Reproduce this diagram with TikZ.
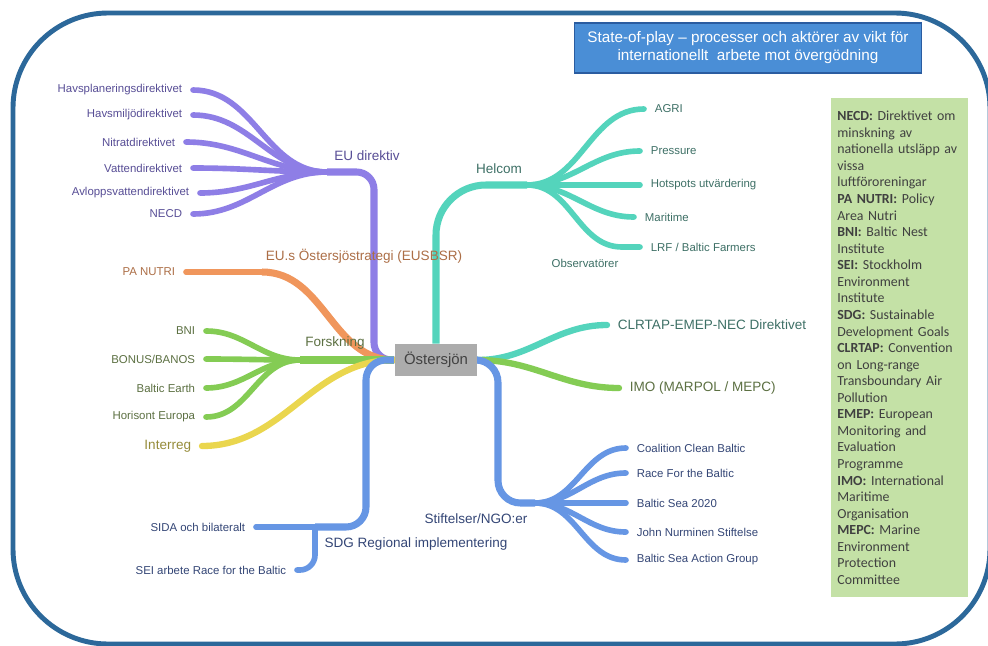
\documentclass[tikz,border=0pt]{standalone}
\usepackage{fontspec}
\setmainfont{Liberation Sans}
\newfontfamily\legendfont{Carlito}
\usepackage{tikz}
\usetikzlibrary{positioning,backgrounds}
\usepackage{xcolor}
\definecolor{cFrame}{RGB}{44,104,154}
\definecolor{cTitle}{RGB}{74,142,214}
\definecolor{cTitleEdge}{RGB}{42,92,160}
\definecolor{cLegend}{RGB}{196,225,166}
\definecolor{cLegText}{RGB}{64,64,64}
\definecolor{cCenter}{RGB}{172,172,172}
\definecolor{cCenterTxt}{RGB}{66,66,66}
\definecolor{cPurple}{RGB}{142,126,230}
\definecolor{tPurple}{RGB}{88,78,150}
\definecolor{cTeal}{RGB}{84,212,188}
\definecolor{tTeal}{RGB}{62,112,102}
\definecolor{cOrange}{RGB}{240,150,92}
\definecolor{tOrange}{RGB}{172,110,70}
\definecolor{cGreen}{RGB}{132,204,84}
\definecolor{tGreen}{RGB}{92,112,66}
\definecolor{cYellow}{RGB}{234,214,78}
\definecolor{tYellow}{RGB}{150,140,58}
\definecolor{cBlue}{RGB}{102,150,228}
\definecolor{tBlue}{RGB}{52,70,118}
\tikzset{
  outerframe/.style={draw=cFrame,line width=2.8pt,rounded corners=1.9cm},
  titlebox/.style={rectangle,fill=cTitle,draw=cTitleEdge,line width=0.6pt,
                   text=white,align=center,minimum width=6.94cm,minimum height=1cm,
                   font=\fontsize{8.7}{10.2}\selectfont},
  legendbox/.style={rectangle,fill=cLegend,text=cLegText,align=left,
                    text width=2.5cm,inner xsep=0.12cm,minimum height=9.98cm,
                    font=\legendfont\fontsize{7.9}{9.43}\selectfont},
  centernode/.style={rectangle,fill=cCenter,text=cCenterTxt,minimum width=1.66cm,
                     minimum height=0.64cm,font=\fontsize{8.5}{10}\selectfont},
  leaflbl/.style={inner sep=1pt,font=\fontsize{6.5}{7.8}\selectfont},
  branchlbl/.style={inner sep=1pt,font=\fontsize{7.7}{9.2}\selectfont},
  trunkline/.style={line width=4pt,line cap=butt},
  leafline/.style={line width=3.2pt,line cap=round}
}
\begin{document}
\begin{tikzpicture}[x=0.02cm,y=-0.02cm]
  \useasboundingbox (0,0) rectangle (988,646);

  \node[titlebox] (title) at (748,48)
      {State-of-play \textendash{} processer och aktörer av vikt för\\
       internationellt\ \ arbete mot övergödning};

  \node[legendbox,anchor=north west] (legend) at (831,98)
      {\textbf{NECD:} Direktivet om\\minskning av\\nationella utsläpp av\\vissa\\
       luftföroreningar\\\textbf{PA NUTRI:} Policy\\Area Nutri\\\textbf{BNI:} Baltic Nest\\
       Institute\\\textbf{SEI:} Stockholm\\Environment\\Institute\\
       \textbf{SDG:} Sustainable\\Development Goals\\\textbf{CLRTAP:} Convention\\
       on Long-range\\Transboundary Air\\Pollution\\\textbf{EMEP:} European\\
       Monitoring and\\Evaluation\\Programme\\\textbf{IMO:} International\\
       Maritime\\Organisation\\\textbf{MEPC:} Marine\\Environment\\Protection\\Committee};

  \node[centernode] (ost) at (436,360) {Östersjön};

  % EU direktiv
  \coordinate (hubEU) at (327,172);
  \coordinate (eHavsp) at (193,90);
  \coordinate (eHavsm) at (193,115);
  \coordinate (eNitrat) at (186,142);
  \coordinate (eVatten) at (193,168);
  \coordinate (eAvlopp) at (200,193);
  \coordinate (eNECD) at (193,214);
  \node[branchlbl,text=tPurple] (eudir) at (367,156) {EU direktiv};
  \node[leaflbl,text=tPurple,left=5pt of eHavsp] (havsp) {Havsplaneringsdirektivet};
  \node[leaflbl,text=tPurple,left=5pt of eHavsm] (havsm) {Havsmiljödirektivet};
  \node[leaflbl,text=tPurple,left=5pt of eNitrat] (nitrat) {Nitratdirektivet};
  \node[leaflbl,text=tPurple,left=5pt of eVatten] (vatten) {Vattendirektivet};
  \node[leaflbl,text=tPurple,left=5pt of eAvlopp] (avlopp) {Avloppsvattendirektivet};
  \node[leaflbl,text=tPurple,left=5pt of eNECD] (necd) {NECD};

  % EUSBSR
  \coordinate (hubEUS) at (262,272);
  \coordinate (ePA) at (186,272);
  \node[branchlbl,text=tOrange] (eusbsr) at (364,256) {EU.s Östersjöstrategi (EUSBSR)};
  \node[leaflbl,text=tOrange,left=5pt of ePA] (panutri) {PA NUTRI};

  % Forskning
  \coordinate (hubFor) at (300,360);
  \coordinate (eBNI) at (206,331);
  \coordinate (eBonus) at (206,359);
  \coordinate (eBaltE) at (206,388);
  \coordinate (eHoris) at (206,417);
  \coordinate (eInter) at (202,446);
  \node[branchlbl,text=tGreen] (forsk) at (335,343) {Forskning};
  \node[leaflbl,text=tGreen,left=5pt of eBNI] (bni) {BNI};
  \node[leaflbl,text=tGreen,left=5pt of eBonus] (bonus) {BONUS/BANOS};
  \node[leaflbl,text=tGreen,left=5pt of eBaltE] (balte) {Baltic Earth};
  \node[leaflbl,text=tGreen,left=5pt of eHoris] (horis) {Horisont Europa};
  \node[branchlbl,text=tYellow,left=5pt of eInter] (interreg) {Interreg};

  % Helcom
  \coordinate (hubHel) at (527,185);
  \coordinate (eAgri) at (644,109);
  \coordinate (ePress) at (640,151);
  \coordinate (eHots) at (640,185);
  \coordinate (eMarit) at (634,217);
  \coordinate (hubObs) at (622,247);
  \coordinate (eLRF) at (640,247);
  \node[branchlbl,text=tTeal] (helcom) at (499,169) {Helcom};
  \node[leaflbl,text=tTeal,right=5pt of eAgri] (agri) {AGRI};
  \node[leaflbl,text=tTeal,right=5pt of ePress] (press) {Pressure};
  \node[leaflbl,text=tTeal,right=5pt of eHots] (hots) {Hotspots utvärdering};
  \node[leaflbl,text=tTeal,right=5pt of eMarit] (marit) {Maritime};
  \node[leaflbl,text=tTeal,right=5pt of eLRF] (lrf) {LRF / Baltic Farmers};
  \node[leaflbl,text=tTeal] (obs) at (585,263) {Observatörer};

  % CLRTAP / IMO
  \coordinate (eCLR) at (607,325);
  \coordinate (eIMO) at (619,388);
  \node[branchlbl,text=tTeal,right=5pt of eCLR] (clrtap) {CLRTAP-EMEP-NEC Direktivet};
  \node[branchlbl,text=tGreen,right=5pt of eIMO] (imo) {IMO (MARPOL / MEPC)};

  % Stiftelser / SDG
  \coordinate (hubSt) at (535,503);
  \coordinate (eCoal) at (626,448);
  \coordinate (eRace) at (626,473);
  \coordinate (eBS) at (626,503);
  \coordinate (eJohn) at (626,532);
  \coordinate (eBSAG) at (626,560);
  \node[branchlbl,text=tBlue] (stift) at (476,519) {Stiftelser/NGO:er};
  \node[leaflbl,text=tBlue,right=5pt of eCoal] (coal) {Coalition Clean Baltic};
  \node[leaflbl,text=tBlue,right=5pt of eRace] (race) {Race For the Baltic};
  \node[leaflbl,text=tBlue,right=5pt of eBS] (bs) {Baltic Sea 2020};
  \node[leaflbl,text=tBlue,right=5pt of eJohn] (john) {John Nurminen Stiftelse};
  \node[leaflbl,text=tBlue,right=5pt of eBSAG] (bsag) {Baltic Sea Action Group};
  \coordinate (hubSDG) at (315,527);
  \coordinate (eSIDA) at (256,527);
  \coordinate (eSEI) at (297,570);
  \node[branchlbl,text=tBlue] (sdg) at (416,544) {SDG Regional implementering};
  \node[leaflbl,text=tBlue,left=5pt of eSIDA] (sida) {SIDA och bilateralt};
  \node[leaflbl,text=tBlue,left=5pt of eSEI] (sei) {SEI arbete Race for the Baltic};

  \begin{scope}[on background layer]
    \fill[white] (0,0) rectangle (988,646);
    \draw[outerframe] (13,13) rectangle (990,644);

    \draw[trunkline,cPurple,rounded corners=0.35cm] (ost.west) -- (374,360) |- (hubEU);
    \draw[leafline,cPurple] (hubEU) to[out=180,in=0] (eHavsp);
    \draw[leafline,cPurple] (hubEU) to[out=180,in=0] (eHavsm);
    \draw[leafline,cPurple] (hubEU) to[out=180,in=0] (eNitrat);
    \draw[leafline,cPurple] (hubEU) to[out=180,in=0] (eVatten);
    \draw[leafline,cPurple] (hubEU) to[out=180,in=0] (eAvlopp);
    \draw[leafline,cPurple] (hubEU) to[out=180,in=0] (eNECD);

    \draw[trunkline,cOrange] (ost.west) to[out=180,in=0] (hubEUS);
    \draw[leafline,cOrange] (hubEUS) -- (ePA);

    \draw[trunkline,cGreen] (ost.west) -- (hubFor);
    \draw[leafline,cGreen] (hubFor) to[out=180,in=0] (eBNI);
    \draw[leafline,cGreen] (hubFor) to[out=180,in=0] (eBonus);
    \draw[leafline,cGreen] (hubFor) to[out=180,in=0] (eBaltE);
    \draw[leafline,cGreen] (hubFor) to[out=180,in=0] (eHoris);
    \draw[leafline,line width=3.6pt,cYellow] (ost.west) to[out=180,in=0] (eInter);

    \draw[trunkline,cTeal,rounded corners=1cm] (ost.north) |- (hubHel);
    \draw[leafline,cTeal] (hubHel) to[out=0,in=180] (eAgri);
    \draw[leafline,cTeal] (hubHel) to[out=0,in=180] (ePress);
    \draw[leafline,cTeal] (hubHel) to[out=0,in=180] (eHots);
    \draw[leafline,cTeal] (hubHel) to[out=0,in=180] (eMarit);
    \draw[leafline,cTeal] (hubHel) to[out=0,in=180] (hubObs) -- (eLRF);

    \draw[leafline,line width=3.6pt,cTeal] (ost.east) to[out=0,in=180] (eCLR);
    \draw[leafline,line width=3.6pt,cGreen] (ost.east) to[out=0,in=180] (eIMO);

    \draw[trunkline,cBlue,rounded corners=0.45cm] (ost.east) -- (498,360) |- (hubSt);
    \draw[leafline,cBlue] (hubSt) to[out=0,in=180] (eCoal);
    \draw[leafline,cBlue] (hubSt) to[out=0,in=180] (eRace);
    \draw[leafline,cBlue] (hubSt) to[out=0,in=180] (eBS);
    \draw[leafline,cBlue] (hubSt) to[out=0,in=180] (eJohn);
    \draw[leafline,cBlue] (hubSt) to[out=0,in=180] (eBSAG);

    \draw[trunkline,cBlue,rounded corners=0.4cm] (ost.west) -- (366,360) |- (hubSDG);
    \draw[leafline,cBlue] (hubSDG) -- (eSIDA);
    \draw[leafline,cBlue,rounded corners=0.3cm] (hubSDG) |- (eSEI);
  \end{scope}

\end{tikzpicture}
\end{document}
